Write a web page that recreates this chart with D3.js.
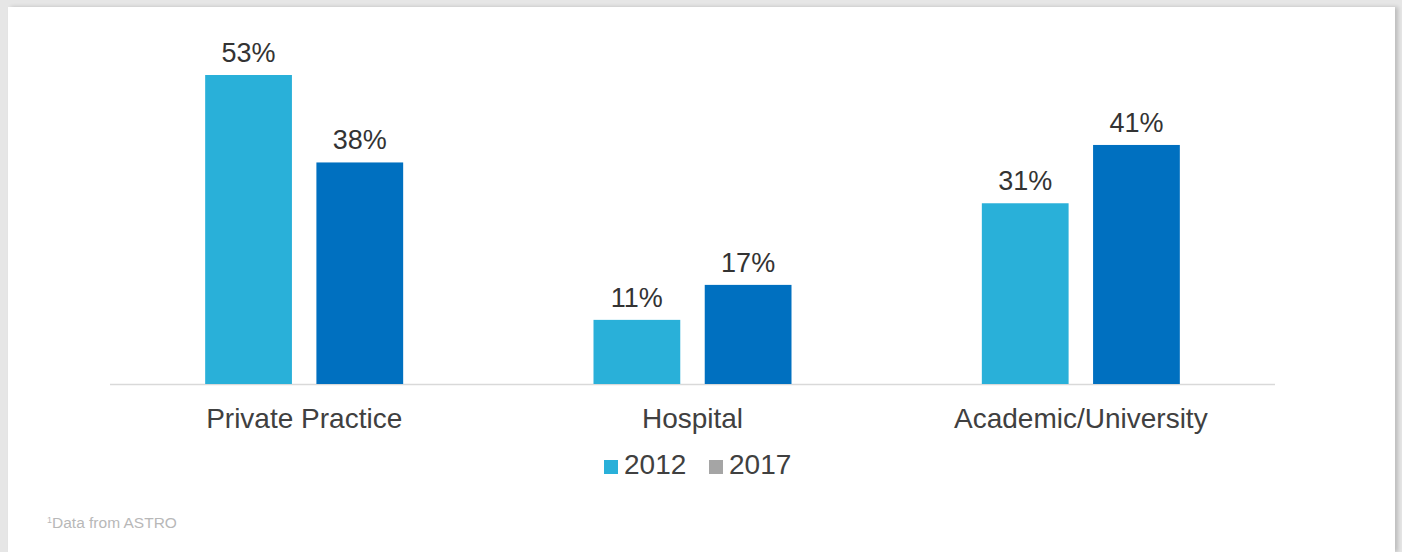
<!DOCTYPE html>
<html>
<head>
<meta charset="utf-8">
<script src="https://cdn.jsdelivr.net/npm/d3@7"></script>
<style>
  body { margin: 0; background: #e6e6e6; }
  #panel { position: absolute; left: 8px; top: 7px; width: 1387px; height: 545px; background: #fff;
           box-shadow: 3px 0 4px rgba(0,0,0,0.18); }
  svg { position: absolute; left: 0; top: 0; }
</style>
</head>
<body>
<div id="panel"></div>
<svg width="1402" height="552"></svg>
<script>
//Data
const categories = ["Private Practice", "Hospital", "Academic/University"];
const years = ["2012", "2017"];
const values2012 = [53, 11, 31];
const values2017 = [38, 17, 41];
const legendColors = ["#29b0d9", "#a5a5a5"];
const barColors = ["#29b0d9", "#0070c0"];

let svg = d3.select("svg");
let font = "Liberation Sans, Arial, sans-serif";

let baseline = 384;

//Scales
let xScale = d3.scaleBand().domain(categories).range([110, 1275]);
let inner = d3.scaleBand().domain(years).range([0, 198]).paddingInner(0.22);
let yScale = d3.scaleLinear().domain([0, 53]).range([baseline, 75]);

let rows = categories.map((c, i) => ({ cat: c, vals: [values2012[i], values2017[i]] }));

//Baseline
svg.append("line")
  .attr("x1", 110).attr("x2", 1275)
  .attr("y1", baseline + 0.5).attr("y2", baseline + 0.5)
  .attr("stroke", "#d9d9d9").attr("stroke-width", 1.5);

//Bars
let groups = svg.selectAll("g.group")
  .data(rows)
  .enter()
  .append("g")
  .attr("class", "group")
  .attr("transform", (d) => `translate(${xScale(d.cat) + xScale.bandwidth() / 2 - 99},0)`);

groups.selectAll("rect")
  .data((d) => d.vals.map((v, j) => ({ v: v, year: years[j], j: j })))
  .enter()
  .append("rect")
  .attr("x", (d) => inner(d.year))
  .attr("y", (d) => yScale(d.v))
  .attr("width", inner.bandwidth())
  .attr("height", (d) => baseline - yScale(d.v))
  .attr("fill", (d) => barColors[d.j]);

groups.selectAll("text")
  .data((d) => d.vals.map((v, j) => ({ v: v, year: years[j] })))
  .enter()
  .append("text")
  .attr("x", (d) => inner(d.year) + inner.bandwidth() / 2)
  .attr("y", (d) => yScale(d.v) - 13)
  .attr("text-anchor", "middle")
  .attr("font-family", font)
  .attr("font-size", 27)
  .attr("fill", "#333")
  .text((d) => d.v + "%");

//Category axis
let xAxis = svg.append("g")
  .attr("transform", `translate(0,${baseline})`)
  .call(d3.axisBottom(xScale).tickSize(0).tickPadding(0));
xAxis.select(".domain").remove();
xAxis.selectAll("text")
  .attr("dy", null)
  .attr("y", 44)
  .attr("font-family", font)
  .attr("font-size", 28)
  .attr("fill", "#404040");

//Legend
let legend = svg.append("g").attr("transform", "translate(604,474)");
let legendX = [0, 105];
years.forEach((y, i) => {
  legend.append("rect")
    .attr("x", legendX[i]).attr("y", -14)
    .attr("width", 14).attr("height", 14)
    .attr("fill", legendColors[i]);
  legend.append("text")
    .attr("x", legendX[i] + 20).attr("y", 0)
    .attr("font-family", font)
    .attr("font-size", 28)
    .attr("fill", "#404040")
    .text(y);
});

//Footnote
let note = svg.append("text")
  .attr("x", 47).attr("y", 528)
  .attr("font-family", font)
  .attr("font-size", 15.5)
  .attr("fill", "#b8b8b8");
note.append("tspan").attr("font-size", 9).attr("dy", -5).text("1");
note.append("tspan").attr("dy", 5).text("Data from ASTRO");
</script>
</body>
</html>
